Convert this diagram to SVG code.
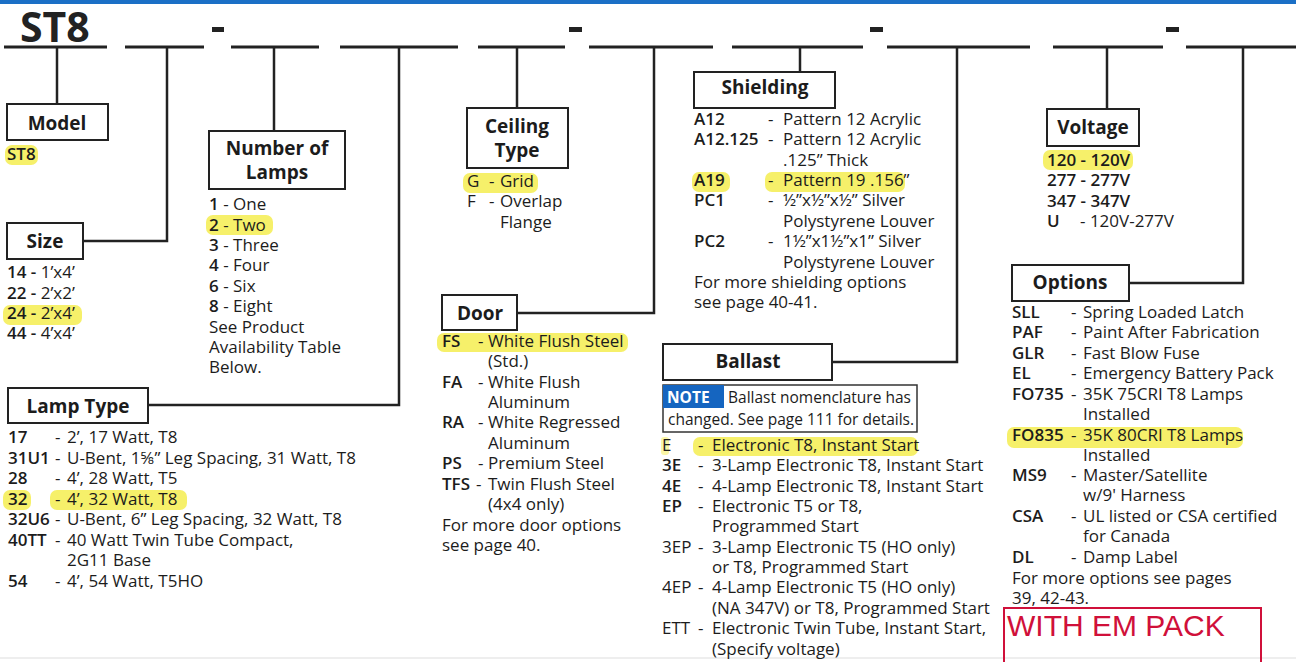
<svg xmlns="http://www.w3.org/2000/svg" width="1296" height="662" viewBox="0 0 1296 662">
<style>
text{font-family:"Open Sans","Liberation Sans",sans-serif;font-size:17px;fill:#1c1c1c}
.b{font-weight:600}
.ttl{font-size:19px;font-weight:bold;text-anchor:middle}
.box{fill:#fff;stroke:#222;stroke-width:2}
.ln{stroke:#222;stroke-width:2.5;fill:none}
.ul{stroke:#222;stroke-width:3;fill:none}
.hl{fill:#f6f06a}
.dash{fill:#222}
.note{font-size:15.5px}
</style>
<rect x="0" y="0" width="1296" height="662" fill="#fff"/>
<rect x="0" y="0" width="1296" height="4" fill="#1b6fc6"/>
<line x1="0" y1="658" x2="1296" y2="658" stroke="#e8e8e8" stroke-width="1.5"/>

<g id="header">
<text x="20" y="42" style="font-size:41px;font-weight:bold;fill:#222">ST8</text>
<g class="ul">
<line x1="4" y1="47" x2="107" y2="47"/>
<line x1="125" y1="47" x2="204" y2="47"/>
<line x1="231" y1="47" x2="319" y2="47"/>
<line x1="340" y1="47" x2="458" y2="47"/>
<line x1="478" y1="47" x2="565" y2="47"/>
<line x1="589" y1="47" x2="713" y2="47"/>
<line x1="732" y1="47" x2="863" y2="47"/>
<line x1="887" y1="47" x2="1030" y2="47"/>
<line x1="1053" y1="47" x2="1163" y2="47"/>
<line x1="1186" y1="47" x2="1296" y2="47"/>
</g>
<rect class="dash" x="212" y="27" width="12" height="5"/>
<rect class="dash" x="569" y="27" width="13" height="5"/>
<rect class="dash" x="870" y="27" width="13" height="5"/>
<rect class="dash" x="1166" y="27" width="13" height="5"/>
</g>

<g id="connectors" class="ln">
<polyline points="57,47 57,103"/>
<polyline points="167,47 167,241 83,241"/>
<polyline points="274,47 274,131"/>
<polyline points="399,47 399,405 148,405"/>
<polyline points="517,47 517,108"/>
<polyline points="654,47 654,313 517,313"/>
<polyline points="800,47 800,72"/>
<polyline points="957,47 957,362 832,362"/>
<polyline points="1107,47 1107,109"/>
<polyline points="1243,47 1243,283 1129,283"/>
</g>

<g id="model">
<rect class="box" x="7" y="104" width="101" height="36"/>
<text class="ttl" x="57" y="130">Model</text>
<rect class="hl" x="5" y="145" width="33" height="20" rx="7"/>
<text class="b" x="7" y="160">ST8</text>
</g>

<g id="size">
<rect class="box" x="7" y="223" width="76" height="36"/>
<text class="ttl" x="45" y="248">Size</text>
<rect class="hl" x="3" y="305" width="79" height="20" rx="7"/>
<text x="7" y="278"><tspan class="b">14 -</tspan> 1’x4’</text>
<text x="7" y="299"><tspan class="b">22 -</tspan> 2’x2’</text>
<text x="7" y="319"><tspan class="b">24 -</tspan> 2’x4’</text>
<text x="7" y="339"><tspan class="b">44 -</tspan> 4’x4’</text>
</g>

<g id="lamps">
<rect class="box" x="209" y="131" width="136" height="58"/>
<text class="ttl" x="277" y="155">Number of</text>
<text class="ttl" x="277" y="179">Lamps</text>
<rect class="hl" x="206" y="215" width="67" height="20" rx="7"/>
<text x="209" y="210"><tspan class="b">1</tspan> - One</text>
<text x="209" y="231"><tspan class="b">2</tspan> - Two</text>
<text x="209" y="251"><tspan class="b">3</tspan> - Three</text>
<text x="209" y="271"><tspan class="b">4</tspan> - Four</text>
<text x="209" y="292"><tspan class="b">6</tspan> - Six</text>
<text x="209" y="312"><tspan class="b">8</tspan> - Eight</text>
<text x="209" y="333">See Product</text>
<text x="209" y="353">Availability Table</text>
<text x="209" y="373">Below.</text>
</g>

<g id="lamptype">
<rect class="box" x="8" y="388" width="140" height="35"/>
<text class="ttl" x="78" y="413">Lamp Type</text>
<rect class="hl" x="3" y="490" width="28" height="20" rx="7"/>
<rect class="hl" x="50" y="490" width="137" height="20" rx="7"/>
<text class="b" x="8" y="443">17</text><text x="55" y="443">-</text><text x="67" y="443">2’, 17 Watt, T8</text>
<text class="b" x="8" y="464">31U1</text><text x="55" y="464">-</text><text x="67" y="464">U-Bent, 1⅝” Leg Spacing, 31 Watt, T8</text>
<text class="b" x="8" y="484">28</text><text x="55" y="484">-</text><text x="67" y="484">4’, 28 Watt, T5</text>
<text class="b" x="8" y="505">32</text><text x="55" y="505">-</text><text x="67" y="505">4’, 32 Watt, T8</text>
<text class="b" x="8" y="525">32U6</text><text x="55" y="525">-</text><text x="67" y="525">U-Bent, 6” Leg Spacing, 32 Watt, T8</text>
<text class="b" x="8" y="546">40TT</text><text x="55" y="546">-</text><text x="67" y="546">40 Watt Twin Tube Compact,</text>
<text x="67" y="566">2G11 Base</text>
<text class="b" x="8" y="587">54</text><text x="55" y="587">-</text><text x="67" y="587">4’, 54 Watt, T5HO</text>
</g>

<g id="ceiling">
<rect class="box" x="467" y="108" width="101" height="60"/>
<text class="ttl" x="517" y="133">Ceiling</text>
<text class="ttl" x="517" y="157">Type</text>
<rect class="hl" x="463" y="173" width="75" height="20" rx="7"/>
<text x="467" y="187">G</text><text x="489" y="187">-</text><text x="500" y="187">Grid</text>
<text x="467" y="207">F</text><text x="489" y="207">-</text><text x="500" y="207">Overlap</text>
<text x="500" y="228">Flange</text>
</g>

<g id="door">
<rect class="box" x="442" y="295" width="75" height="35"/>
<text class="ttl" x="480" y="320">Door</text>
<rect class="hl" x="437" y="333" width="191" height="19" rx="7"/>
<text class="b" x="442" y="347">FS</text><text x="478" y="347">-</text><text x="488" y="347">White Flush Steel</text>
<text x="488" y="367">(Std.)</text>
<text class="b" x="442" y="388">FA</text><text x="478" y="388">-</text><text x="488" y="388">White Flush</text>
<text x="488" y="408">Aluminum</text>
<text class="b" x="442" y="428">RA</text><text x="478" y="428">-</text><text x="488" y="428">White Regressed</text>
<text x="488" y="449">Aluminum</text>
<text class="b" x="442" y="469">PS</text><text x="478" y="469">-</text><text x="488" y="469">Premium Steel</text>
<text class="b" x="442" y="490">TFS</text><text x="476" y="490">-</text><text x="488" y="490">Twin Flush Steel</text>
<text x="488" y="510">(4x4 only)</text>
<text x="442" y="531">For more door options</text>
<text x="442" y="551">see page 40.</text>
</g>

<g id="shielding">
<rect class="box" x="694" y="72" width="141" height="36"/>
<text class="ttl" x="765" y="94">Shielding</text>
<rect class="hl" x="692" y="172" width="38" height="20" rx="7"/>
<rect class="hl" x="765" y="172" width="140" height="20" rx="7"/>
<text class="b" x="694" y="125">A12</text><text x="768" y="125">-</text><text x="783" y="125">Pattern 12 Acrylic</text>
<text class="b" x="694" y="145">A12.125</text><text x="768" y="145">-</text><text x="783" y="145">Pattern 12 Acrylic</text>
<text x="783" y="166">.125” Thick</text>
<text class="b" x="694" y="186">A19</text><text x="768" y="186">-</text><text x="783" y="186">Pattern 19 .156”</text>
<text class="b" x="694" y="206">PC1</text><text x="768" y="206">-</text><text x="783" y="206">½”x½”x½” Silver</text>
<text x="783" y="227">Polystyrene Louver</text>
<text class="b" x="694" y="247">PC2</text><text x="768" y="247">-</text><text x="783" y="247">1½”x1½”x1” Silver</text>
<text x="783" y="268">Polystyrene Louver</text>
<text x="694" y="288">For more shielding options</text>
<text x="694" y="308">see page 40-41.</text>
</g>

<g id="ballast">
<rect class="box" x="663" y="344" width="169" height="36"/>
<text class="ttl" x="748" y="368">Ballast</text>
<rect x="663" y="385" width="254" height="47" fill="#fff" stroke="#333" stroke-width="1.5"/>
<rect x="663" y="385" width="61" height="23" fill="#1565c0"/>
<text class="note" x="667" y="403" style="fill:#fff;font-weight:bold">NOTE</text>
<text class="note" x="728" y="403">Ballast nomenclature has</text>
<text class="note" x="668" y="425">changed. See page 111 for details.</text>
<rect class="hl" x="661" y="437" width="8" height="18" rx="3" opacity="0.6"/>
<rect class="hl" x="693" y="437" width="225" height="19" rx="7"/>
<text x="662" y="451">E</text><text x="698" y="451">-</text><text x="712" y="451">Electronic T8, Instant Start</text>
<text class="b" x="662" y="471">3E</text><text x="698" y="471">-</text><text x="712" y="471">3-Lamp Electronic T8, Instant Start</text>
<text class="b" x="662" y="492">4E</text><text x="698" y="492">-</text><text x="712" y="492">4-Lamp Electronic T8, Instant Start</text>
<text class="b" x="662" y="512">EP</text><text x="698" y="512">-</text><text x="712" y="512">Electronic T5 or T8,</text>
<text x="712" y="532">Programmed Start</text>
<text x="662" y="553">3EP</text><text x="698" y="553">-</text><text x="712" y="553">3-Lamp Electronic T5 (HO only)</text>
<text x="712" y="573">or T8, Programmed Start</text>
<text x="662" y="593">4EP</text><text x="698" y="593">-</text><text x="712" y="593">4-Lamp Electronic T5 (HO only)</text>
<text x="712" y="614">(NA 347V) or T8, Programmed Start</text>
<text x="662" y="634">ETT</text><text x="698" y="634">-</text><text x="712" y="634">Electronic Twin Tube, Instant Start,</text>
<text x="712" y="655">(Specify voltage)</text>
</g>

<g id="voltage">
<rect class="box" x="1047" y="109" width="92" height="37"/>
<text class="ttl" x="1093" y="134">Voltage</text>
<rect class="hl" x="1043" y="150" width="90" height="20" rx="7"/>
<text class="b" x="1047" y="166">120 - 120V</text>
<text class="b" x="1047" y="186">277 - 277V</text>
<text class="b" x="1047" y="207">347 - 347V</text>
<text class="b" x="1047" y="227">U</text><text x="1080" y="227">- 120V-277V</text>
</g>

<g id="options">
<rect class="box" x="1012" y="265" width="117" height="36"/>
<text class="ttl" x="1070" y="289">Options</text>
<rect class="hl" x="1007" y="427" width="236" height="21" rx="7"/>
<text class="b" x="1012" y="318">SLL</text><text x="1071" y="318">-</text><text x="1083" y="318">Spring Loaded Latch</text>
<text class="b" x="1012" y="338">PAF</text><text x="1071" y="338">-</text><text x="1083" y="338">Paint After Fabrication</text>
<text class="b" x="1012" y="359">GLR</text><text x="1071" y="359">-</text><text x="1083" y="359">Fast Blow Fuse</text>
<text class="b" x="1012" y="379">EL</text><text x="1071" y="379">-</text><text x="1083" y="379">Emergency Battery Pack</text>
<text class="b" x="1012" y="400">FO735</text><text x="1071" y="400">-</text><text x="1083" y="400">35K 75CRI T8 Lamps</text>
<text x="1083" y="420">Installed</text>
<text class="b" x="1012" y="441">FO835</text><text x="1071" y="441">-</text><text x="1083" y="441">35K 80CRI T8 Lamps</text>
<text x="1083" y="461">Installed</text>
<text class="b" x="1012" y="481">MS9</text><text x="1071" y="481">-</text><text x="1083" y="481">Master/Satellite</text>
<text x="1083" y="501">w/9' Harness</text>
<text class="b" x="1012" y="522">CSA</text><text x="1071" y="522">-</text><text x="1083" y="522">UL listed or CSA certified</text>
<text x="1083" y="542">for Canada</text>
<text class="b" x="1012" y="563">DL</text><text x="1071" y="563">-</text><text x="1083" y="563">Damp Label</text>
<text x="1012" y="584">For more options see pages</text>
<text x="1012" y="604">39, 42-43.</text>
</g>

<g id="empack">
<polyline points="1004,662 1004,608 1261,608 1261,662" fill="none" stroke="#d0103a" stroke-width="2"/>
<text x="1007" y="636" style="font-family:'Liberation Sans',Arial,sans-serif;font-size:30px;fill:#d0103a">WITH EM PACK</text>
</g>
</svg>
